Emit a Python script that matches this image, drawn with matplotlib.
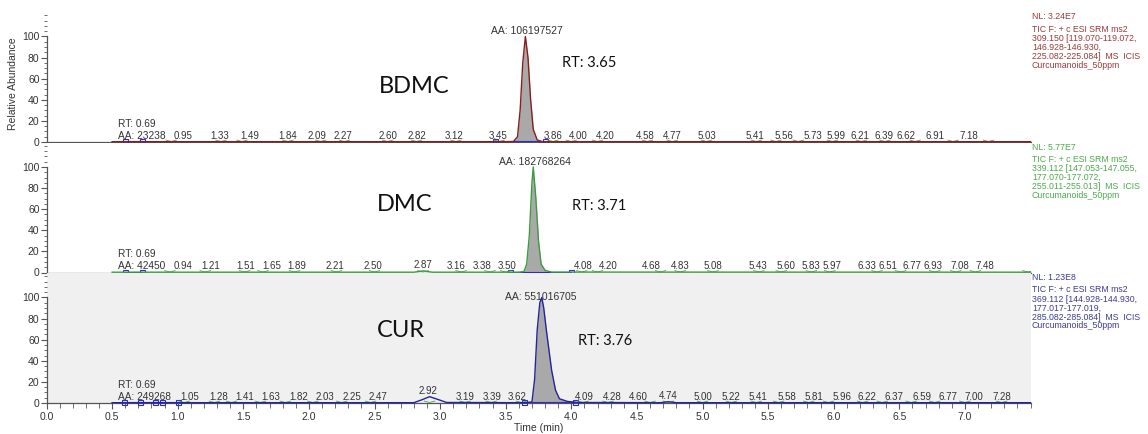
import numpy as np
import matplotlib
matplotlib.use('Agg')
import matplotlib.pyplot as plt
from matplotlib.ticker import MultipleLocator, FormatStrFormatter

plt.rcParams['font.family'] = ['Liberation Sans', 'DejaVu Sans']

# ---- BDMC trace (time in min, relative abundance %) ----
bdmc_time = [0.50, 3.50, 3.56, 3.59, 3.61, 3.63, 3.65, 3.67, 3.69, 3.71, 3.74, 3.78, 7.50]
bdmc_abund = [0.3, 0.3, 0.5, 5, 30, 75, 100, 80, 40, 12, 2, 0.3, 0.3]
bdmc_integ = [[0.60, 0.73], [3.42, 3.80]]
bdmc_rt = [0.95, 1.33, 1.49, 1.84, 2.09, 2.27, 2.60, 2.82, 3.12, 3.45, 3.86, 4.00, 4.20,
           4.58, 4.77, 5.03, 5.41, 5.56, 5.73, 5.99, 6.21, 6.39, 6.62, 6.91, 7.18]
bdmc_info = ['NL: 3.24E7', 'TIC F: + c ESI SRM ms2', '309.150 [119.070-119.072,',
             '146.928-146.930,', '225.082-225.084]  MS  ICIS', 'Curcumanoids_50ppm']

# ---- DMC trace ----
dmc_time = [0.50, 2.80, 2.87, 2.94, 3.60, 3.64, 3.66, 3.68, 3.70, 3.71, 3.73, 3.75, 3.77, 3.80, 3.85, 7.50]
dmc_abund = [0.3, 0.3, 1.5, 0.3, 0.3, 1, 8, 35, 85, 100, 70, 30, 8, 2, 0.4, 0.3]
dmc_integ = [[0.60, 0.73], [3.53, 4.00]]
dmc_rt = [0.94, 1.21, 1.51, 1.65, 1.89, 2.21, 2.50, 2.87, 3.16, 3.38, 3.50, 4.08, 4.20,
          4.68, 4.83, 5.08, 5.43, 5.60, 5.83, 5.97, 6.33, 6.51, 6.77, 6.93, 7.08, 7.48]
dmc_info = ['NL: 5.77E7', 'TIC F: + c ESI SRM ms2', '339.112 [147.053-147.055,',
            '177.070-177.072,', '255.011-255.013]  MS  ICIS', 'Curcumanoids_50ppm']

# ---- CUR trace ----
cur_time = [0.50, 2.80, 2.86, 2.92, 2.98, 3.05, 3.65, 3.70, 3.72, 3.74, 3.76, 3.775, 3.79,
            3.81, 3.85, 3.88, 3.91, 3.97, 4.05, 4.68, 4.74, 4.80, 7.50]
cur_abund = [0.3, 0.3, 3.0, 6.0, 3.5, 0.5, 0.3, 1, 22, 69, 95, 100, 90,
             69, 31, 12, 4, 1.5, 0.5, 0.3, 1.2, 0.3, 0.3]
cur_integ = [[0.59, 0.71, 0.83, 0.88, 1.00], [3.64, 4.03]]
cur_rt = [1.05, 1.28, 1.41, 1.63, 1.82, 2.03, 2.25, 2.47, 2.92, 3.19, 3.39, 3.62, 4.09, 4.28,
          4.60, 4.74, 5.00, 5.22, 5.41, 5.58, 5.81, 5.96, 6.22, 6.37, 6.59, 6.77, 7.00, 7.28]
cur_info = ['NL: 1.23E8', 'TIC F: + c ESI SRM ms2', '369.112 [144.928-144.930,',
            '177.017-177.019,', '285.082-285.084]  MS  ICIS', 'Curcumanoids_50ppm']

# first-peak annotation and main peak values
first_aa = ['23238', '42450', '249268']
main_aa = ['106197527', '182768264', '551016705']
main_rt = [3.65, 3.71, 3.76]
names = ['BDMC', 'DMC', 'CUR']

# time axis labels (no label at the 7.5 end)
time_ticks = [0.0, 0.5, 1.0, 1.5, 2.0, 2.5, 3.0, 3.5, 4.0, 4.5, 5.0, 5.5, 6.0, 6.5, 7.0]

# label placement as drawn by the software (min), same order as the rt lists
bdmc_label_x = [1.04, 1.32, 1.55, 1.84, 2.06, 2.26, 2.60, 2.82, 3.11, 3.44, 3.86, 4.05, 4.26,
                4.56, 4.77, 5.03, 5.40, 5.62, 5.84, 6.02, 6.20, 6.38, 6.55, 6.77, 7.03]
dmc_label_x = [1.04, 1.25, 1.52, 1.72, 1.91, 2.20, 2.49, 2.87, 3.12, 3.32, 3.51, 4.09, 4.28,
               4.61, 4.83, 5.08, 5.42, 5.64, 5.83, 5.99, 6.25, 6.41, 6.60, 6.76, 6.96, 7.15]
cur_label_x = [1.09, 1.31, 1.51, 1.71, 1.92, 2.12, 2.33, 2.53, 2.91, 3.19, 3.40, 3.59, 4.10, 4.31,
               4.51, 4.74, 5.00, 5.22, 5.42, 5.64, 5.85, 6.06, 6.25, 6.46, 6.67, 6.87, 7.07, 7.28]

panels = [
    dict(t=bdmc_time, y=bdmc_abund, integ=bdmc_integ, rt=bdmc_rt, lx=bdmc_label_x, info=bdmc_info,
         color='#8B1C1C', info_color='#9A3B3B', face='white',
         name_xy=(2.80, 53), rt_xy=(4.14, 74.5)),
    dict(t=dmc_time, y=dmc_abund, integ=dmc_integ, rt=dmc_rt, lx=dmc_label_x, info=dmc_info,
         color='#3C9C3C', info_color='#4DAA4D', face='white',
         name_xy=(2.73, 64), rt_xy=(4.21, 63)),
    dict(t=cur_time, y=cur_abund, integ=cur_integ, rt=cur_rt, lx=cur_label_x, info=cur_info,
         color='#24249C', info_color='#3C3C96', face='#F0F0F0',
         name_xy=(2.70, 69), rt_xy=(4.26, 58.5)),
]

W, H = 1148, 434
fig = plt.figure(figsize=(W / 100, H / 100), dpi=100)
left, width, ph = 46.5 / W, 984 / W, 130 / H
bottoms_px = [142, 272.5, 403]
text_c = '#333333'
ymax = 123.2

for i, p in enumerate(panels):
    ax = fig.add_axes([left, 1 - bottoms_px[i] / H, width, ph])
    ax.set_facecolor(p['face'])
    ax.set_xlim(0, 7.5)
    ax.set_ylim(0, ymax)
    for s in ['top', 'right']:
        ax.spines[s].set_visible(False)
    for s in ['left', 'bottom']:
        ax.spines[s].set_color('#555555')
        ax.spines[s].set_linewidth(0.9)
    ax.spines['left'].set_bounds(0, 100)

    t = np.array(p['t'])
    y = np.array(p['y'])

    # integration baselines with event squares
    for seg in p['integ']:
        ax.plot(seg, [0.6] * len(seg), color='#2B2BD0', lw=0.8, marker='s', ms=3.6,
                mfc='none', mec='#2B2BD0', mew=0.8, clip_on=False, zorder=3)

    # filled main peak
    s0, s1 = p['integ'][-1][0], p['integ'][-1][-1]
    ax.fill_between(t, y, 0.6, where=(t >= s0) & (t <= s1), color='#A9A9A9',
                    interpolate=True, lw=0, zorder=2)
    ax.plot(t, y, color=p['color'], lw=1.0, zorder=4, clip_on=False)

    # small peak markers and labels
    for rt, lx in zip(p['rt'], p['lx']):
        ax.plot([rt - 0.04, rt, rt + 0.04], [1.8, 0.5, 1.8], color='#4CA64C', lw=0.6, zorder=3)
        ly = np.interp(rt, t, y) + 2.7
        ax.text(lx, ly, f'{rt:.2f}', ha='center', va='baseline', fontsize=7, color=text_c)

    ax.text(0.545, 14.5, 'RT: 0.69', ha='left', va='baseline', fontsize=7.3, color=text_c)
    ax.text(0.545, 3.0, f'AA: {first_aa[i]}', ha='left', va='baseline', fontsize=7.3, color=text_c)

    # main peak annotations
    peak_y = np.interp(main_rt[i], t, y)
    ax.text(main_rt[i] + 0.01, peak_y + 5, f'AA: {main_aa[i]}', ha='center', va='center',
            fontsize=7.5, color=text_c)
    ax.text(*p['name_xy'], names[i], ha='center', va='center', fontsize=17,
            family=['Lato', 'DejaVu Sans'], color='#111111')
    ax.text(*p['rt_xy'], f'RT: {main_rt[i]:.2f}', ha='center', va='center', fontsize=10.5,
            family=['Lato', 'DejaVu Sans'], color='#111111')

    # y axis
    ax.set_yticks([0, 20, 40, 60, 80, 100])
    ax.yaxis.set_minor_locator(MultipleLocator(5))
    ax.tick_params(axis='y', which='major', length=4, width=0.8, color='#555555',
                   labelsize=7.5, labelcolor=text_c, pad=1)
    ax.tick_params(axis='y', which='minor', length=2.5, width=0.6, color='#555555')

    # x axis only on the last panel
    if i == 2:
        ax.set_xticks(time_ticks)
        ax.xaxis.set_minor_locator(MultipleLocator(0.1))
        ax.xaxis.set_major_formatter(FormatStrFormatter('%.1f'))
        ax.tick_params(axis='x', which='major', length=4.5, width=0.8, color='#555555',
                       labelsize=7.5, labelcolor=text_c, pad=2)
        ax.tick_params(axis='x', which='minor', length=3.5, width=0.6, color='#555555')
        ax.set_xlabel('Time (min)', fontsize=7.5, color=text_c, labelpad=1)
    else:
        ax.tick_params(axis='x', which='both', bottom=False, labelbottom=False)

    # right-side scan info
    ax.text(1.0015, 1 - 4.5 / 130, p['info'][0], transform=ax.transAxes, ha='left',
            va='center', fontsize=6.3, color=p['info_color'])
    for k, line in enumerate(p['info'][1:]):
        ax.text(1.0015, 1 - (17 + 9 * k) / 130, line, transform=ax.transAxes,
                ha='left', va='center', fontsize=6.3, color=p['info_color'])

fig.text(13 / W, 1 - 84 / H, 'Relative Abundance', rotation=90, ha='center', va='center',
         fontsize=7.5, color=text_c)

fig.savefig('out.png', dpi=100)
